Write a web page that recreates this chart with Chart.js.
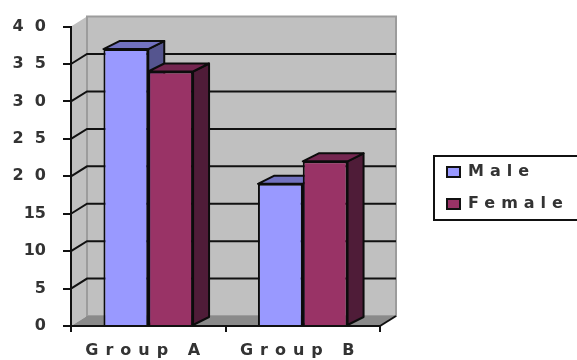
<!DOCTYPE html>
<html>
<head>
<meta charset="utf-8">
<title>Group A / Group B</title>
<script src="https://cdn.jsdelivr.net/npm/chart.js@4/dist/chart.umd.min.js"></script>
<style>
  html, body { margin: 0; padding: 0; background: #fff; }
  #wrap { width: 577px; height: 360px; }
</style>
</head>
<body>
<div id="wrap"><canvas id="myChart" width="577" height="360"></canvas></div>
<script>
const categories = ['Group A', 'Group B'];
const male = [37, 19];
const female = [34, 22];
const yTickLabels = ['0', '5', '10', '15', '2  0', '2  5', '3  0', '3  5', '4  0'];

const textFont = 'bold 16px "DejaVu Sans"';
const textColor = '#333333';

// how far the walls and the bars are pushed back
const wallX = 16, wallY = 10;
const barX = 16, barY = 8;

// x axis labels are set wide, canvas has no font option for that
class WideCategoryScale extends Chart.CategoryScale {
  drawLabels(area) {
    const ctx = this.ctx;
    ctx.save();
    ctx.letterSpacing = '7px';
    super.drawLabels(area);
    ctx.restore();
  }
}
WideCategoryScale.id = 'wideCategory';
WideCategoryScale.defaults = {};
Chart.register(WideCategoryScale);

function poly(ctx, pts, fill, stroke, width) {
  ctx.beginPath();
  pts.forEach((p, i) => i ? ctx.lineTo(p[0], p[1]) : ctx.moveTo(p[0], p[1]));
  ctx.closePath();
  if (fill) { ctx.fillStyle = fill; ctx.fill(); }
  if (stroke) { ctx.strokeStyle = stroke; ctx.lineWidth = width; ctx.stroke(); }
}

// box walls, floor and grid lines
const wallsPlugin = {
  id: 'walls',
  beforeDraw(chart) {
    const { ctx, chartArea: a, scales: { y } } = chart;
    ctx.save();
    poly(ctx, [[a.left, a.top], [a.left + wallX, a.top - wallY], [a.left + wallX, a.bottom - wallY], [a.left, a.bottom]], '#c0c0c0');
    poly(ctx, [[a.left + wallX, a.top - wallY], [a.right + wallX, a.top - wallY], [a.right + wallX, a.bottom - wallY], [a.left + wallX, a.bottom - wallY]], '#c0c0c0', '#9c9c9c', 2);
    poly(ctx, [[a.left, a.bottom], [a.left + wallX, a.bottom - wallY], [a.right + wallX, a.bottom - wallY], [a.right, a.bottom]], '#8a8a8a');

    ctx.strokeStyle = '#111';
    ctx.lineWidth = 2;
    y.ticks.forEach(t => {
      if (t.value === 0 || t.value === y.max) return;
      const py = y.getPixelForValue(t.value);
      ctx.beginPath();
      ctx.moveTo(a.left, py);
      ctx.lineTo(a.left + wallX, py - wallY);
      ctx.lineTo(a.right + wallX, py - wallY);
      ctx.stroke();
    });
    ctx.beginPath();
    ctx.moveTo(a.right, a.bottom);
    ctx.lineTo(a.right + wallX, a.bottom - wallY);
    ctx.stroke();
    ctx.restore();
  },
  // side and top faces go under the fronts the library draws
  beforeDatasetsDraw(chart) {
    const ctx = chart.ctx;
    ctx.save();
    ctx.lineJoin = 'round';
    chart.data.datasets.forEach((ds, d) => {
      chart.getDatasetMeta(d).data.forEach(bar => {
        const l = bar.x - bar.width / 2, r = bar.x + bar.width / 2;
        const top = bar.y, base = bar.base;
        poly(ctx, [[r, top], [r + barX, top - barY], [r + barX, base - barY], [r, base]], ds.sideColor, '#0c0c0c', 2);
        poly(ctx, [[l, top], [l + barX, top - barY], [r + barX, top - barY], [r, top]], ds.topColor, '#0c0c0c', 2);
      });
    });
    ctx.restore();
  },
  // legend box runs off the right edge of the page
  afterDraw(chart) {
    const ctx = chart.ctx;
    ctx.save();
    ctx.fillStyle = '#fff';
    ctx.strokeStyle = '#111';
    ctx.lineWidth = 2;
    ctx.fillRect(434, 156, 150, 64);
    ctx.strokeRect(434, 156, 150, 64);
    ctx.font = textFont;
    ctx.letterSpacing = '6px';
    ctx.textBaseline = 'middle';
    chart.data.datasets.forEach((ds, i) => {
      const cy = 172 + i * 32;
      ctx.fillStyle = ds.backgroundColor;
      ctx.fillRect(447, cy - 5, 13, 10);
      ctx.strokeRect(447, cy - 5, 13, 10);
      ctx.fillStyle = textColor;
      ctx.fillText(ds.label, 468, cy);
    });
    ctx.restore();
  }
};

const ctx = document.getElementById('myChart').getContext('2d');
const myChart = new Chart(ctx, {
  type: 'bar',
  data: {
    labels: categories,
    datasets: [{
      label: 'Male',
      data: male,
      backgroundColor: '#9999ff',
      sideColor: '#55558f',
      topColor: '#7272c0',
      borderColor: '#0c0c0c',
      borderWidth: 2
    }, {
      label: 'Female',
      data: female,
      backgroundColor: '#993366',
      sideColor: '#4f1c38',
      topColor: '#742650',
      borderColor: '#0c0c0c',
      borderWidth: 2
    }]
  },
  options: {
    responsive: false,
    animation: false,
    layout: { padding: { top: 24, right: 197 } },
    datasets: { bar: { barPercentage: 1, categoryPercentage: 0.58 } },
    plugins: { legend: { display: false }, tooltip: { enabled: false } },
    scales: {
      x: {
        type: 'wideCategory',
        afterFit: scale => { scale.height = 34; },
        border: { color: '#111', width: 2 },
        grid: { drawOnChartArea: false, color: '#111', lineWidth: 2, tickLength: 6 },
        ticks: { color: textColor, font: { family: 'DejaVu Sans', size: 16, weight: 'bold' }, labelOffset: -2, padding: 9, maxRotation: 0 }
      },
      y: {
        min: 0,
        max: 40,
        afterFit: scale => { scale.width = 71; },
        border: { color: '#111', width: 2 },
        grid: { drawOnChartArea: false, color: '#111', lineWidth: 2, tickLength: 8 },
        ticks: {
          stepSize: 5,
          color: textColor,
          font: { family: 'DejaVu Sans', size: 16, weight: 'bold' },
          padding: 17,
          callback: function(value) {
            return yTickLabels[value / 5];
          }
        }
      }
    }
  },
  plugins: [wallsPlugin]
});
</script>
</body>
</html>
